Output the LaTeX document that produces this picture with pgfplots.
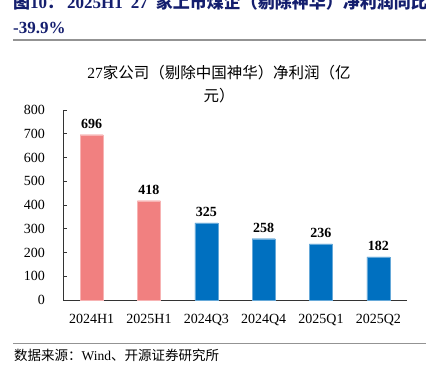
\documentclass[border=0pt]{standalone}
\usepackage{pgfplots}
\pgfplotsset{compat=1.18}
\usepackage{fontspec}
\setmainfont{Liberation Serif}
\newfontfamily\cjk{Noto Sans CJK SC}
\definecolor{barpink}{RGB}{241,128,128}
\definecolor{barblue}{RGB}{0,112,192}
\definecolor{navy}{RGB}{20,30,110}
\begin{document}
\begin{tikzpicture}[x=1pt,y=1pt]
\useasboundingbox (0,0) rectangle (426,365);
% header
\node[anchor=base west, inner sep=0pt, text=navy, font=\fontsize{17}{17}\selectfont\bfseries] at (13,356) {{\cjk 图}10{\cjk ：}\hspace{3pt}2025H1\hspace{8pt}27\hspace{8pt}{\cjk 家上市煤企（剔除神华）净利润同比}};
\node[anchor=base west, inner sep=0pt, text=navy, font=\fontsize{17}{17}\selectfont\bfseries] at (13,331) {-39.9\%};
\draw[line width=1.5pt, gray!85] (13,325) -- (426,325);
% chart title
\node[anchor=base, inner sep=0pt, font=\fontsize{15.5}{15.5}\selectfont] at (219,287) {27{\cjk 家公司（剔除中国神华）净利润（亿}};
\node[anchor=base, inner sep=0pt, font=\fontsize{15.5}{15.5}\selectfont] at (219,263) {{\cjk 元）}};
% footer
\draw[line width=1pt, gray!85] (13,22) -- (426,22);
\node[anchor=base west, inner sep=0pt, font=\fontsize{13.5}{13.5}\selectfont] at (14,5) {{\cjk 数据来源：}Wind{\cjk 、开源证券研究所}};
\begin{axis}[
  at={(63pt,65pt)}, anchor=south west,
  scale only axis, width=344pt, height=190pt,
  xmin=-0.5, xmax=5.5, ymin=0, ymax=800,
  axis x line*=bottom, axis y line*=left,
  axis line style={line width=0.8pt, black!80},
  xtick={0,1,2,3,4,5},
  xticklabels={2024H1,2025H1,2024Q3,2024Q4,2025Q1,2025Q2},
  x tick style={draw=none},
  extra x ticks={-0.5,0.5,1.5,2.5,3.5,4.5,5.5},
  extra x tick labels={},
  extra x tick style={major tick length=4pt, tick style={draw=black!80, line width=0.8pt}, tick align=inside},
  ytick={0,100,...,800},
  y tick style={line width=0.8pt, black!80},
  major tick length=4pt, tick align=inside,
  /pgf/number format/assume math mode=true,
  ticklabel style={font=\fontsize{14}{14}\selectfont},
  yticklabel style={anchor=east, inner sep=0pt, xshift=-18pt},
  xticklabel style={anchor=north, inner sep=0pt, yshift=-10pt},
  ybar, bar width=23pt,
  nodes near coords,
  every node near coord/.append style={font=\fontsize{14}{14}\selectfont\bfseries, yshift=3pt},
]
\addplot[fill=barpink, draw=barpink!60, bar shift=0pt] coordinates {(0,696) (1,418)};
\addplot[fill=barblue, draw=barblue!60, bar shift=0pt] coordinates {(2,325) (3,258) (4,236) (5,182)};
\end{axis}
\end{tikzpicture}
\end{document}
